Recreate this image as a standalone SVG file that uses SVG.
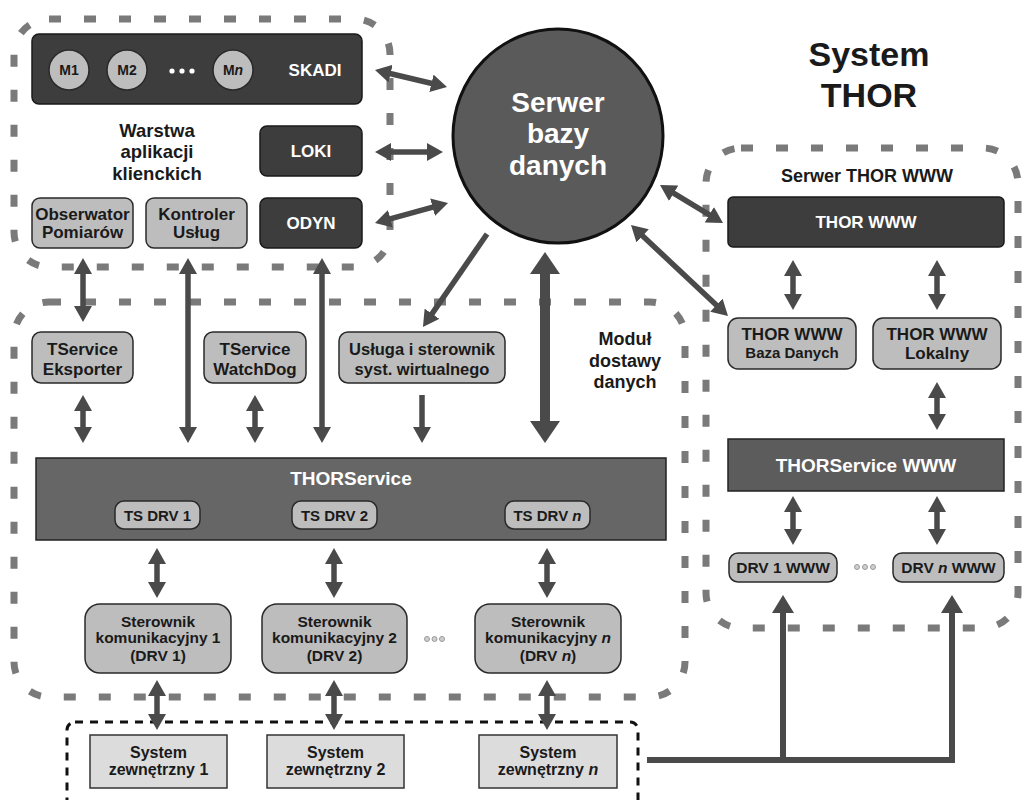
<svg xmlns="http://www.w3.org/2000/svg" width="1022" height="800" viewBox="0 0 1022 800">
<style>
text{font-family:"Liberation Sans",Arial,sans-serif;font-weight:bold;text-anchor:middle}
.w{fill:#fff}
.k{fill:#1a1a1a}
.dark{fill:#3d3d3d;stroke:#1a1a1a;stroke-width:1.5}
.light{fill:#bdbdbd;stroke:#2a2a2a;stroke-width:1.5}
.ext{fill:#dcdcdc;stroke:#333;stroke-width:1.5}
.region{fill:none;stroke:#7a7a7a;stroke-width:7;stroke-dasharray:12 23}
.dotted{fill:none;stroke:#111;stroke-width:3;stroke-dasharray:8 7}
.ar{stroke:#4a4a4a;stroke-width:5.5;fill:none}
.ms{marker-start:url(#a)}
.me{marker-end:url(#a)}
.dot{fill:#cfcfcf;stroke:#999;stroke-width:1}
</style>
<defs>
<marker id="a" viewBox="0 0 16 18" refX="5" refY="9" markerWidth="16" markerHeight="18" markerUnits="userSpaceOnUse" orient="auto-start-reverse"><path d="M0,0 L16,9 L0,18 Z" fill="#4a4a4a"/></marker>
<marker id="ab" viewBox="0 0 22 30" refX="6" refY="15" markerWidth="22" markerHeight="30" markerUnits="userSpaceOnUse" orient="auto-start-reverse"><path d="M0,0 L22,15 L0,30 Z" fill="#4a4a4a"/></marker>
<marker id="am" viewBox="0 0 18 22" refX="5" refY="11" markerWidth="18" markerHeight="22" markerUnits="userSpaceOnUse" orient="auto-start-reverse"><path d="M0,0 L18,11 L0,22 Z" fill="#4a4a4a"/></marker>
</defs>

<g id="regions">
<rect class="region" x="14" y="19" width="376" height="248" rx="35"/>
<rect class="region" x="14" y="302" width="671" height="395" rx="35"/>
<rect class="region" x="706" y="148" width="312" height="480" rx="35"/>
<rect class="dotted" x="67" y="722" width="571" height="110" rx="8"/>
</g>

<g id="labels">
<text class="k" font-size="18.5" x="157" y="137">Warstwa</text>
<text class="k" font-size="18.5" x="157" y="158">aplikacji</text>
<text class="k" font-size="18.5" x="157" y="180">klienckich</text>
<text class="k" font-size="34" x="869" y="66">System</text>
<text class="k" font-size="34" x="869" y="107">THOR</text>
<text class="k" font-size="18" x="625" y="345">Moduł</text>
<text class="k" font-size="18" x="625" y="367">dostawy</text>
<text class="k" font-size="18" x="625" y="388">danych</text>
<text class="k" font-size="18" x="867" y="182">Serwer THOR WWW</text>
</g>

<g id="connectors">
<line class="ar ms me" x1="385.7" y1="72.5" x2="436.3" y2="84.5"/>
<line class="ar ms me" x1="386" y1="152" x2="432" y2="152"/>
<line class="ar ms me" x1="385.6" y1="220.1" x2="437.4" y2="205.9"/>
<line class="ar ms me" x1="669.4" y1="190.7" x2="713.6" y2="217.3"/>
<line class="ar ms me" x1="639" y1="232.5" x2="720" y2="308.5"/>
<line class="ar me" x1="487" y1="234" x2="429.2" y2="317.9"/>
<line class="ar ms me" x1="83" y1="269" x2="83" y2="311"/>
<line class="ar ms me" x1="188" y1="269" x2="188" y2="432"/>
<line class="ar ms me" x1="322" y1="269" x2="322" y2="432"/>
<line class="ar ms me" x1="83" y1="406" x2="83" y2="432"/>
<line class="ar ms me" x1="255" y1="406" x2="255" y2="432"/>
<line class="ar me" x1="422" y1="395" x2="422" y2="432"/>
<line stroke="#4a4a4a" stroke-width="10" marker-start="url(#ab)" marker-end="url(#ab)" x1="545" y1="268" x2="545" y2="427"/>
<line class="ar ms me" x1="157" y1="559" x2="157" y2="587"/>
<line class="ar ms me" x1="334" y1="559" x2="334" y2="587"/>
<line class="ar ms me" x1="547" y1="559" x2="547" y2="587"/>
<line class="ar ms me" x1="157" y1="691" x2="157" y2="719"/>
<line class="ar ms me" x1="334" y1="691" x2="334" y2="719"/>
<line class="ar ms me" x1="547" y1="691" x2="547" y2="719"/>
<line class="ar ms me" x1="793" y1="271" x2="793" y2="299"/>
<line class="ar ms me" x1="937" y1="271" x2="937" y2="299"/>
<line class="ar ms me" x1="937" y1="393" x2="937" y2="419"/>
<line class="ar ms me" x1="793" y1="507" x2="793" y2="534"/>
<line class="ar ms me" x1="937" y1="507" x2="937" y2="534"/>
<path stroke="#4a4a4a" stroke-width="6" fill="none" marker-end="url(#am)" d="M647,760 H952 V608"/>
<path stroke="#4a4a4a" stroke-width="6" fill="none" marker-end="url(#am)" d="M783,760 V608"/>
</g>

<g id="skadi">
<rect class="dark" x="32" y="34" width="330" height="70" rx="7"/>
<circle class="light" cx="69" cy="70" r="20"/>
<circle class="light" cx="127" cy="70" r="20"/>
<circle class="light" cx="233" cy="70" r="20"/>
<text class="k" font-size="14" x="69" y="75">M1</text>
<text class="k" font-size="14" x="127" y="75">M2</text>
<text class="k" font-size="14" x="233" y="75">M<tspan font-style="italic">n</tspan></text>
<circle cx="172" cy="71" r="2.6" fill="#fff"/>
<circle cx="182" cy="71" r="2.6" fill="#fff"/>
<circle cx="192" cy="71" r="2.6" fill="#fff"/>
<text class="w" font-size="17" x="315" y="76">SKADI</text>
</g>
<g id="loki">
<rect class="dark" x="260" y="126" width="102" height="50" rx="7"/>
<text class="w" font-size="17" x="311" y="157">LOKI</text>
</g>
<g id="odyn">
<rect class="dark" x="260" y="198" width="102" height="50" rx="7"/>
<text class="w" font-size="17" x="311" y="229">ODYN</text>
</g>
<g id="obserwator">
<rect class="light" x="32" y="198" width="101" height="50" rx="8"/>
<text class="k" font-size="17" x="82.5" y="220">Obserwator</text>
<text class="k" font-size="17" x="82.5" y="238">Pomiarów</text>
</g>
<g id="kontroler">
<rect class="light" x="146" y="198" width="101" height="50" rx="8"/>
<text class="k" font-size="17" x="196.5" y="220">Kontroler</text>
<text class="k" font-size="17" x="196.5" y="238">Usług</text>
</g>

<g id="serwer-bazy">
<ellipse cx="558" cy="136" rx="105" ry="107" fill="#5a5a5a" stroke="#111" stroke-width="3"/>
<text class="w" font-size="28" x="558" y="112">Serwer</text>
<text class="w" font-size="28" x="558" y="143">bazy</text>
<text class="w" font-size="28" x="558" y="175">danych</text>
</g>

<g id="tservice-eksporter">
<rect class="light" x="32" y="332" width="101" height="51" rx="9"/>
<text class="k" font-size="17" x="82.5" y="355">TService</text>
<text class="k" font-size="17" x="82.5" y="375">Eksporter</text>
</g>
<g id="tservice-watchdog">
<rect class="light" x="204" y="332" width="102" height="51" rx="9"/>
<text class="k" font-size="17" x="255" y="355">TService</text>
<text class="k" font-size="17" x="255" y="375">WatchDog</text>
</g>
<g id="usluga">
<rect class="light" x="339" y="332" width="166" height="51" rx="9"/>
<text class="k" font-size="16.5" x="422" y="355">Usługa i sterownik</text>
<text class="k" font-size="16.5" x="422" y="375">syst. wirtualnego</text>
</g>

<g id="thorservice">
<rect x="36" y="458" width="630" height="82" fill="#666" stroke="#222" stroke-width="1.5"/>
<text class="w" font-size="19" x="351" y="485">THORService</text>
<rect class="light" x="115" y="501" width="85" height="28" rx="9"/>
<text class="k" font-size="15" x="157.5" y="521">TS DRV 1</text>
<rect class="light" x="292" y="501" width="85" height="28" rx="9"/>
<text class="k" font-size="15" x="334.5" y="521">TS DRV 2</text>
<rect class="light" x="505" y="501" width="85" height="28" rx="9"/>
<text class="k" font-size="15" x="547.5" y="521">TS DRV <tspan font-style="italic">n</tspan></text>
</g>

<g id="sterownik-1">
<rect class="light" x="85" y="604" width="146" height="69" rx="15"/>
<text class="k" font-size="15.5" x="158" y="627">Sterownik</text>
<text class="k" font-size="15.5" x="158" y="643">komunikacyjny 1</text>
<text class="k" font-size="15.5" x="158" y="661">(DRV 1)</text>
</g>
<g id="sterownik-2">
<rect class="light" x="262" y="604" width="145" height="69" rx="15"/>
<text class="k" font-size="15.5" x="334.5" y="627">Sterownik</text>
<text class="k" font-size="15.5" x="334.5" y="643">komunikacyjny 2</text>
<text class="k" font-size="15.5" x="334.5" y="661">(DRV 2)</text>
</g>
<g id="dots-sterownik">
<circle class="dot" cx="427" cy="639" r="2.5"/>
<circle class="dot" cx="434.5" cy="639" r="2.5"/>
<circle class="dot" cx="442" cy="639" r="2.5"/>
</g>
<g id="sterownik-n">
<rect class="light" x="475" y="604" width="146" height="69" rx="15"/>
<text class="k" font-size="15.5" x="548" y="627">Sterownik</text>
<text class="k" font-size="15.5" x="548" y="643">komunikacyjny <tspan font-style="italic">n</tspan></text>
<text class="k" font-size="15.5" x="548" y="661">(DRV <tspan font-style="italic">n</tspan>)</text>
</g>

<g id="system-1">
<rect class="ext" x="90" y="735" width="137" height="53"/>
<text class="k" font-size="16" x="158.5" y="758">System</text>
<text class="k" font-size="16" x="158.5" y="775">zewnętrzny 1</text>
</g>
<g id="system-2">
<rect class="ext" x="267" y="735" width="137" height="53"/>
<text class="k" font-size="16" x="335.5" y="758">System</text>
<text class="k" font-size="16" x="335.5" y="775">zewnętrzny 2</text>
</g>
<g id="system-n">
<rect class="ext" x="479" y="735" width="138" height="53"/>
<text class="k" font-size="16" x="548" y="758">System</text>
<text class="k" font-size="16" x="548" y="775">zewnętrzny <tspan font-style="italic">n</tspan></text>
</g>

<g id="thor-www">
<rect class="dark" x="728" y="197" width="276" height="50" rx="5"/>
<text class="w" font-size="17" x="866" y="228">THOR WWW</text>
</g>
<g id="thor-www-baza">
<rect class="light" x="728" y="318" width="128" height="51" rx="10"/>
<text class="k" font-size="17" x="792" y="340">THOR WWW</text>
<text class="k" font-size="15" x="792" y="358">Baza Danych</text>
</g>
<g id="thor-www-lokalny">
<rect class="light" x="873" y="318" width="128" height="51" rx="10"/>
<text class="k" font-size="17" x="937" y="340">THOR WWW</text>
<text class="k" font-size="17" x="937" y="359">Lokalny</text>
</g>
<g id="thorservice-www">
<rect x="728" y="439" width="276" height="52" fill="#5c5c5c" stroke="#222" stroke-width="1.5"/>
<text class="w" font-size="19" x="866" y="472">THORService WWW</text>
</g>
<g id="drv1-www">
<rect class="light" x="729" y="553" width="108" height="29" rx="9"/>
<text class="k" font-size="15.5" x="783" y="573">DRV 1 WWW</text>
</g>
<g id="dots-www">
<circle class="dot" cx="857" cy="567" r="2.5"/>
<circle class="dot" cx="865" cy="567" r="2.5"/>
<circle class="dot" cx="873" cy="567" r="2.5"/>
</g>
<g id="drvn-www">
<rect class="light" x="893" y="553" width="111" height="29" rx="9"/>
<text class="k" font-size="15.5" x="948.5" y="573">DRV <tspan font-style="italic">n</tspan> WWW</text>
</g>
</svg>
